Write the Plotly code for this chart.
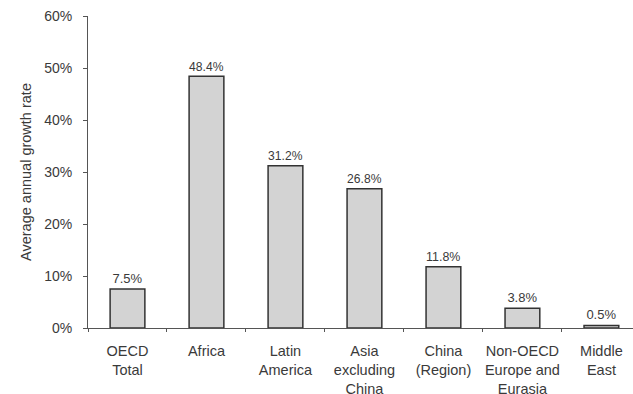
import plotly.graph_objects as go

categories = ["OECD<br>Total", "Africa", "Latin<br>America", "Asia<br>excluding<br>China",
              "China<br>(Region)", "Non-OECD<br>Europe and<br>Eurasia", "Middle<br>East"]
values = [7.5, 48.4, 31.2, 26.8, 11.8, 3.8, 0.5]
labels = ["7.5%", "48.4%", "31.2%", "26.8%", "11.8%", "3.8%", "0.5%"]
y_ticks = [0, 10, 20, 30, 40, 50, 60]
y_ticklabels = ["0%", "10%", "20%", "30%", "40%", "50%", "60%"]

FAM = "Liberation Sans, Arial, sans-serif"
TXT = "#3a3a3a"

fig = go.Figure(go.Bar(
    x=categories, y=values, text=labels, textposition="outside",
    textfont=dict(family=FAM, size=13, color=TXT),
    marker=dict(color="#d3d3d3", line=dict(color="#333333", width=1.5)),
    width=0.44, cliponaxis=False,
))

fig.update_layout(
    width=633, height=394,
    margin=dict(l=88, r=0, t=16, b=66),
    paper_bgcolor="white", plot_bgcolor="white",
    font=dict(family=FAM, size=14, color=TXT), showlegend=False,
    xaxis=dict(range=[-0.5, 6.4], showline=True, linecolor="#555555", linewidth=1,
               ticks="outside", tickson="boundaries", ticklen=3, tickcolor="#555555",
               tickangle=0, showgrid=False, fixedrange=True, automargin=False,
               tickfont=dict(size=14.5), ticklabelstandoff=10),
    yaxis=dict(range=[0, 60], tickvals=y_ticks, ticktext=y_ticklabels,
               showline=True, linecolor="#555555", linewidth=1, ticks="outside",
               ticklen=4, tickcolor="#555555", showgrid=False, zeroline=False,
               automargin=False,
               tickfont=dict(size=14), ticklabelstandoff=8,
               title=dict(text="Average annual growth rate", font=dict(size=14.5), standoff=9)),
)

fig.write_html("out.html")
